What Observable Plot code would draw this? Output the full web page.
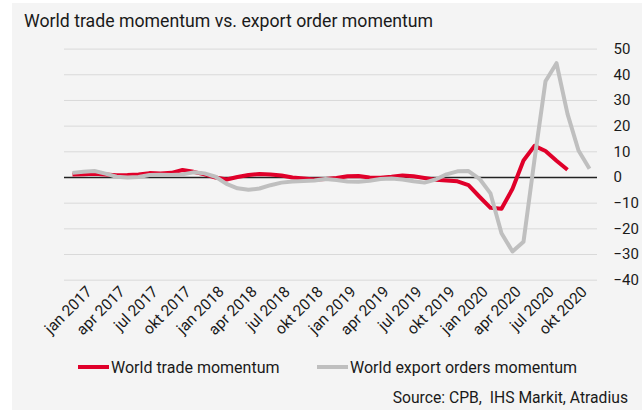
<!DOCTYPE html>
<html>
<head>
<meta charset="utf-8">
<script src="https://cdn.jsdelivr.net/npm/d3@7"></script>
<script src="https://cdn.jsdelivr.net/npm/@observablehq/plot@0.6"></script>
<style>
  html, body { margin: 0; padding: 0; background: #ffffff; }
  #wrap { position: relative; width: 642px; height: 410px; overflow: hidden; font-family: Roboto, "Noto Sans", sans-serif; color: #1a1a1a; }
  #bg { position: absolute; left: 12px; top: 3px; width: 630px; height: 407px; background: #f4f4f4; }
  #title { position: absolute; left: 24px; top: 11px; font-size: 17.7px; white-space: nowrap; }
  #chart { position: absolute; left: 0; top: 30px; }
  #legend { position: absolute; top: 357px; left: 0; width: 642px; font-size: 16px; white-space: nowrap; }
  .item { position: absolute; top: 0; display: flex; align-items: center; height: 20px; }
  .sw { display: inline-block; width: 31px; height: 4px; margin-right: 2px; }
  #source { position: absolute; right: 14px; top: 388px; font-size: 15.7px; white-space: nowrap; }
</style>
</head>
<body>
<div id="wrap">
  <div id="bg"></div>
  <div id="title">World trade momentum vs. export order momentum</div>
  <div id="chart"></div>
  <div id="legend">
    <div class="item" style="left:78px"><span class="sw" style="background:#e0002a"></span>World trade momentum</div>
    <div class="item" style="left:317px"><span class="sw" style="background:#bfbfbf"></span>World export orders momentum</div>
  </div>
  <div id="source">Source: CPB,&nbsp; IHS Markit, Atradius</div>
</div>
<script>
const years = [2017, 2018, 2019, 2020];
const monthNames = ["jan","feb","mrt","apr","mei","jun","jul","aug","sep","okt","nov","dec"];
const months = years.flatMap(y => monthNames.map(m => `${m} ${y}`));

const tickLabels = [
  "jan 2017","apr 2017","jul 2017","okt 2017",
  "jan 2018","apr 2018","jul 2018","okt 2018",
  "jan 2019","apr 2019","jul 2019","okt 2019",
  "jan 2020","apr 2020","jul 2020","okt 2020"
];
const yTicks = [50, 40, 30, 20, 10, 0, -10, -20, -30, -40];

// World trade momentum (jan 2017 – okt 2020)
const worldTrade = [
  1.2, 1.3, 1.5, 1.2, 0.9, 1.0, 1.2, 1.7, 1.6, 1.8, 2.9, 2.2,
  1.2, 0.0, -0.8, 0.2, 1.0, 1.4, 1.2, 0.8, 0.0, -0.4, -0.8, -0.6,
  -0.2, 0.5, 0.6, 0.0, -0.1, 0.3, 0.8, 0.5, -0.2, -0.9, -1.2, -1.5,
  -3.0, -7.5, -11.8, -12.2, -4.4, 6.6, 12.3, 10.3, 6.5, 3.0
];
// World export orders momentum (jan 2017 – dec 2020)
const exportOrders = [
  1.8, 2.2, 2.5, 1.5, 0.3, 0.0, 0.2, 1.0, 1.1, 1.0, 1.2, 2.0,
  1.6, 0.3, -2.5, -4.2, -4.8, -4.3, -3.0, -2.0, -1.6, -1.4, -1.2, -0.6,
  -1.0, -1.6, -1.7, -1.3, -0.6, -0.4, -0.8, -1.5, -2.0, -0.8, 1.2, 2.4,
  2.5, -0.5, -6.2, -21.7, -28.8, -25.0, 7.0, 37.5, 44.5, 24.8, 10.5, 3.4
];

const tradeData = worldTrade.map((v, i) => ({month: months[i], value: v}));
const orderData = exportOrders.map((v, i) => ({month: months[i], value: v}));

const chart = Plot.plot({
  width: 642,
  height: 315,
  marginLeft: 64,
  marginRight: 45,
  marginTop: 18.6,
  marginBottom: 65.3,
  style: {background: "transparent", fontFamily: "Roboto, 'Noto Sans', sans-serif", color: "#1a1a1a"},
  x: {type: "point", domain: months, padding: 0, label: null},
  y: {domain: [-40, 50], label: null},
  marks: [
    Plot.gridY(yTicks, {stroke: "#d9d9d9", strokeOpacity: 1, strokeWidth: 1}),
    Plot.ruleY([0], {stroke: "#222", strokeWidth: 1.5}),
    Plot.lineY(tradeData, {x: "month", y: "value", stroke: "#e0002a", strokeWidth: 4, strokeLinejoin: "round", strokeLinecap: "butt"}),
    Plot.lineY(orderData, {x: "month", y: "value", stroke: "#bfbfbf", strokeWidth: 4, strokeLinejoin: "round", strokeLinecap: "butt"}),
    Plot.axisY(yTicks, {anchor: "right", tickSize: 0, tickPadding: 16, fontSize: 15, textAnchor: "start", label: null}),
    Plot.axisX(tickLabels, {anchor: "bottom", tickSize: 0, tickPadding: 9, tickRotate: -45, fontSize: 15.5, dx: 17, label: null})
  ]
});
document.getElementById("chart").appendChild(chart);
</script>
</body>
</html>
